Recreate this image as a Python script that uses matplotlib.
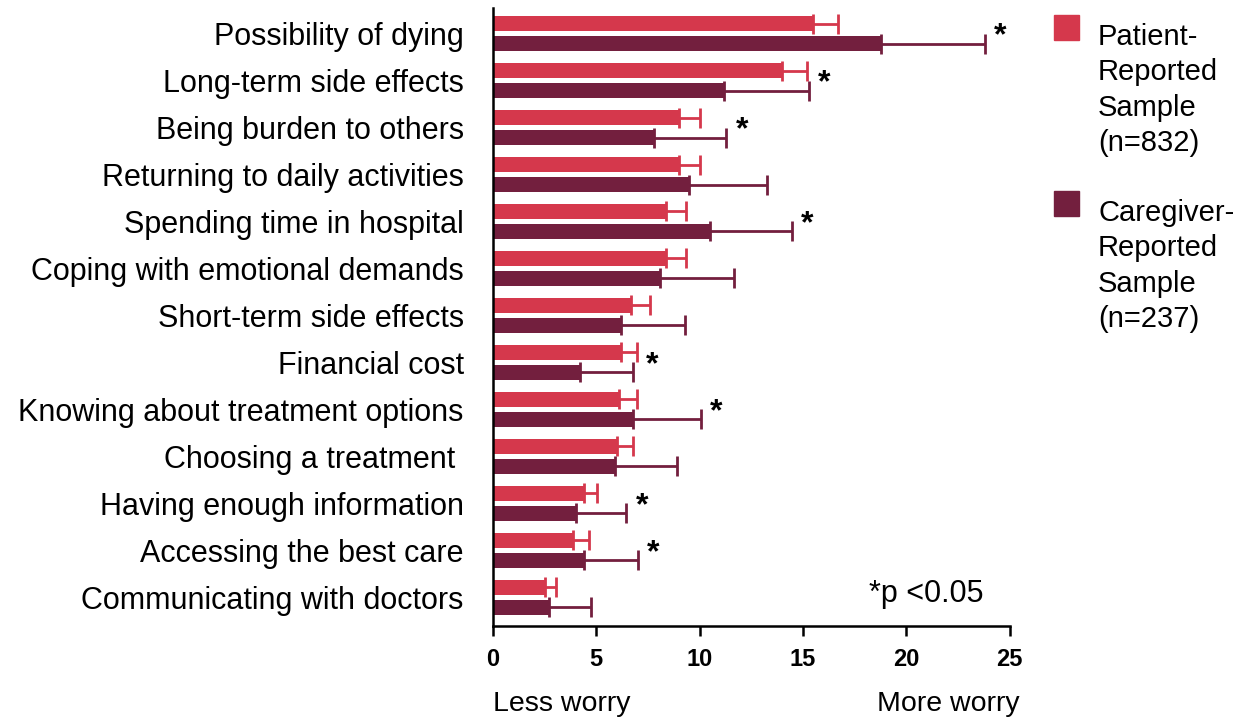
import numpy as np
import matplotlib
matplotlib.use('Agg')
import matplotlib.pyplot as plt
import matplotlib.patches as mpatches

plt.rcParams['font.family'] = ['Liberation Sans', 'DejaVu Sans']

categories = ['Possibility of dying', 'Long-term side effects', 'Being burden to others',
              'Returning to daily activities', 'Spending time in hospital',
              'Coping with emotional demands', 'Short-term side effects', 'Financial cost',
              'Knowing about treatment options', 'Choosing a treatment ',
              'Having enough information', 'Accessing the best care',
              'Communicating with doctors']
patient = [15.5, 14.0, 9.0, 9.0, 8.4, 8.4, 6.7, 6.2, 6.1, 6.0, 4.4, 3.9, 2.5]
patient_err = [1.2, 1.2, 1.0, 1.0, 0.95, 0.95, 0.9, 0.75, 0.85, 0.8, 0.65, 0.75, 0.55]
caregiver = [18.8, 11.2, 7.8, 9.5, 10.5, 8.1, 6.2, 4.2, 6.8, 5.9, 4.0, 4.4, 2.7]
caregiver_err = [5.0, 4.1, 3.5, 3.75, 3.95, 3.55, 3.1, 2.6, 3.25, 3.0, 2.45, 2.6, 2.05]
significant = [True, True, True, False, True, False, False, True, True, False, True, True, False]
xticks = [0, 5, 10, 15, 20, 25]

c_pat = '#d5384c'
c_care = '#731f3e'

fig = plt.figure(figsize=(12.51, 7.2), dpi=100)
ax = fig.add_axes([0.394, 0.1306, 0.413, 0.858])

y = np.arange(len(categories))
h = 0.33
off = 0.213
zeros = np.zeros(len(categories))
ax.barh(y - off, patient, height=h, color=c_pat,
        xerr=[zeros, patient_err], error_kw=dict(ecolor=c_pat, elinewidth=2, capsize=7, capthick=2))
ax.barh(y + off, caregiver, height=h, color=c_care,
        xerr=[zeros, caregiver_err], error_kw=dict(ecolor=c_care, elinewidth=2, capsize=7, capthick=2))

# significance stars just past the longest error bar
for i in range(len(categories)):
    if significant[i]:
        xs = max(patient[i] + patient_err[i], caregiver[i] + caregiver_err[i]) + 0.75
        ax.text(xs, i + 0.23, '*', ha='center', va='baseline', fontsize=23, fontweight='bold')

ax.set_xlim(0, 25)
ax.set_ylim(len(categories) - 1 + 0.61, -0.54)
ax.set_xticks(xticks)
ax.set_xticklabels([str(t) for t in xticks], fontsize=17, fontweight='bold')
ax.set_yticks(y)
ax.set_yticklabels(categories, fontsize=22)
ax.tick_params(axis='y', length=0, pad=21)
ax.tick_params(axis='x', length=7, width=1.8, pad=9)
for s in ['top', 'right']:
    ax.spines[s].set_visible(False)
for s in ['left', 'bottom']:
    ax.spines[s].set_linewidth(1.8)

ax.text(0.95, 0.039, '*p <0.05', transform=ax.transAxes, ha='right', va='baseline', fontsize=22)
fig.text(0.394, 0.0125, 'Less worry', ha='left', va='baseline', fontsize=20.5)
fig.text(0.815, 0.0125, 'More worry', ha='right', va='baseline', fontsize=20.5)

# legend drawn by hand so the square sits at the first line
W, H = 1251, 720
for top, col, lab in [(15, c_pat, 'Patient-\nReported\nSample\n(n=832)'),
                      (191, c_care, 'Caregiver-\nReported\nSample\n(n=237)')]:
    fig.add_artist(mpatches.Rectangle((1054 / W, 1 - (top + 25) / H), 25 / W, 25 / H,
                                      transform=fig.transFigure, color=col))
    fig.text(1098 / W, 1 - (top + 8) / H, lab, ha='left', va='top', fontsize=21, linespacing=1.33)

fig.savefig('out.png', dpi=100)
